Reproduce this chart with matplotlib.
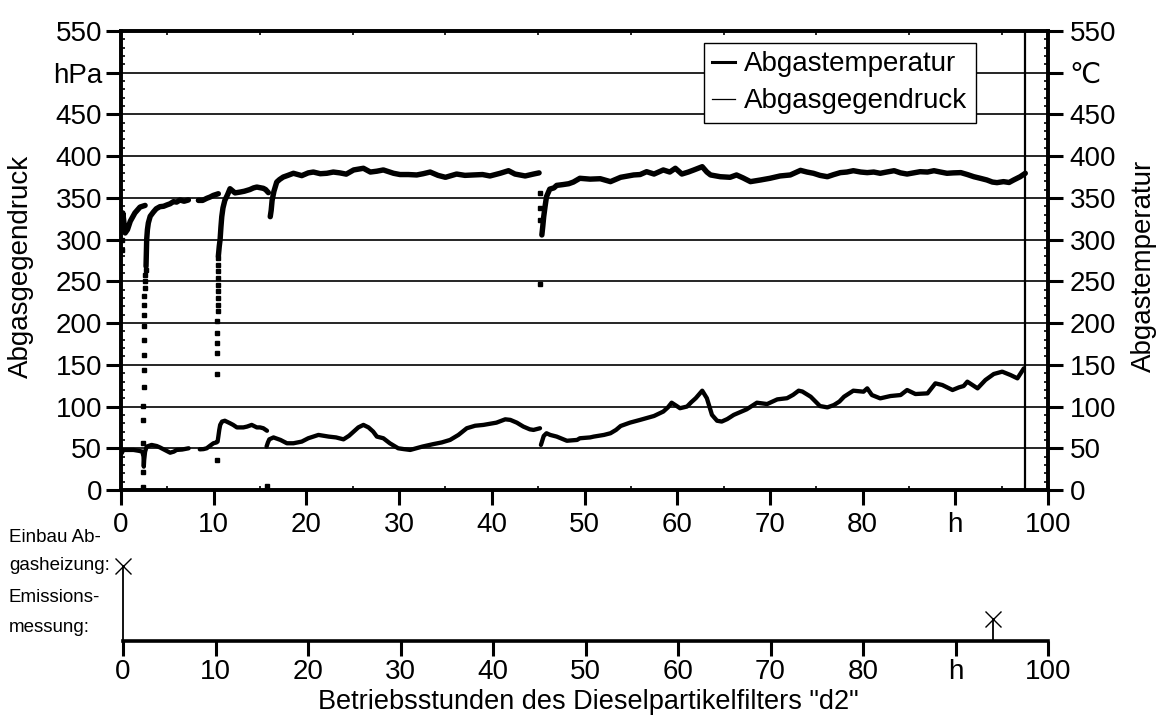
import matplotlib
matplotlib.use("Agg")
import matplotlib.pyplot as plt
from matplotlib.lines import Line2D
from matplotlib.ticker import MultipleLocator
from matplotlib import font_manager

plt.rcParams['font.family'] = ['Liberation Sans', 'DejaVu Sans']

# ---------------- data ----------------
hours_ticks = [0, 10, 20, 30, 40, 50, 60, 70, 80, 90, 100]
hours_labels = ['0', '10', '20', '30', '40', '50', '60', '70', '80', 'h', '100']
y_ticks = [0, 50, 100, 150, 200, 250, 300, 350, 400, 450, 500, 550]
left_labels = ['0', '50', '100', '150', '200', '250', '300', '350', '400', '450', 'hPa', '550']
right_labels = ['0', '50', '100', '150', '200', '250', '300', '350', '400', '450', '\u2103', '550']

# Abgastemperatur (°C) – sparse warm-up samples and continuous runs
warm_a_h = [0.1, 0.1, 0.11]
warm_a_c = [288, 300, 312]
temp_a_h = [0.12, 0.2, 0.3, 0.45, 0.7, 1.0, 1.5, 2.05, 2.6]
temp_a_c = [325, 332, 322, 308, 312, 322, 332, 339, 341]

warm_b_h = [2.41, 2.41, 2.42, 2.42, 2.42, 2.43, 2.43, 2.44, 2.45, 2.46,
            2.48, 2.50, 2.52, 2.55, 2.58, 2.62, 2.66]
warm_b_c = [4, 22, 56, 84, 101, 123, 144, 162, 180, 196,
            210, 222, 232, 242, 250, 258, 264]
temp_b_h = [2.70, 2.77, 2.85, 2.95, 3.15, 3.49, 3.8, 4.2, 4.6, 4.93,
            5.3, 5.65, 6.0, 6.37, 6.8, 7.27]
temp_b_c = [268, 300, 312, 320, 328, 333, 337, 339.5, 340, 341.5,
            343, 345.5, 345, 347.5, 346, 347.5]

temp_c_h = [8.35, 8.8, 9.25, 9.6, 9.95, 10.5]
temp_c_c = [347, 347, 349.5, 351, 353, 355]

warm_d_h = [10.40, 10.39, 10.39, 10.40, 10.40, 10.40, 10.41, 10.41, 10.42, 10.42,
            10.43, 10.43, 10.44, 10.45, 10.46]
warm_d_c = [36, 139, 164, 176, 188, 202, 214, 222, 230, 238,
            246, 254, 262, 270, 278]
temp_d_h = [10.5, 10.6, 10.69, 10.78, 10.87, 11.0, 11.2, 11.5, 11.76, 12.3,
            12.85, 13.3, 13.9, 14.3, 14.65, 15.35, 15.6, 15.9]
temp_d_c = [280, 292, 300, 315, 327.5, 338, 347, 354, 361, 356,
            357, 358, 360, 362, 363, 361.5, 360, 356.3]

cold_h = [15.7]
cold_c = [5]

temp_e_h = [16.1, 16.2, 16.3, 16.5, 16.8, 17.1, 17.5, 18.0, 18.6, 19.5,
            20.2, 20.75, 21.5, 22.2, 22.9, 23.6, 24.3, 25.1, 26.15, 26.9,
            27.6, 28.3, 29.4, 30.1, 31.0, 31.9, 32.6, 33.35, 34.2, 35.0,
            36.2, 37.1, 38.0, 39.0, 39.8, 40.9, 41.8, 42.5, 43.6, 44.5,
            45.1]
temp_e_c = [327.5, 335, 347, 358, 369, 372, 375, 377, 379.5, 376.7,
            380, 381, 379, 379.5, 381, 380, 378.5, 383.5, 385.5, 381,
            382, 383.5, 379.5, 378, 378, 377.5, 379, 381, 377, 374.7,
            378.6, 377, 377.5, 378, 376.3, 379.5, 382.6, 378.6, 376.3, 378.6,
            380]

warm_f_h = [45.18, 45.15, 45.17, 45.2]
warm_f_c = [247, 355.5, 337.5, 323.5]
temp_f_h = [45.4, 45.5, 45.6, 45.75, 45.9, 46.25, 46.7, 47.0, 47.7, 48.3,
            48.8, 49.5, 50.6, 51.7, 52.8, 53.9, 55.3, 56.0, 56.7, 57.5,
            58.5, 59.2, 59.8, 60.5, 61.2, 61.8, 62.7, 63.2, 63.6, 64.65,
            65.7, 66.4, 67.1, 67.9, 69.0, 70.0, 71.1, 72.2, 73.3, 74.0,
            74.7, 75.4, 76.2, 76.9, 77.6, 78.3, 79.0, 79.8, 80.5, 81.2,
            81.9, 82.6, 83.4, 84.1, 84.8, 85.5, 86.2, 87.0, 87.7, 88.4,
            89.1, 89.8, 90.6, 91.3, 92.0, 92.7, 93.4, 94.0, 94.5, 95.2,
            95.8, 96.3, 97.0, 97.55]
temp_f_c = [305.6, 316, 327.5, 340, 351.5, 360.5, 362, 365, 366, 367,
            369, 373.5, 372.5, 373, 369.5, 374.7, 377.5, 378, 381.4, 378.6,
            383.5, 381, 385.5, 378.6, 381, 383.5, 387.4, 381, 377.5, 375.4,
            374.7, 377.5, 374, 369.5, 371.5, 373.5, 376.3, 377.5, 383, 381,
            379.5, 377, 375.4, 378, 380.3, 381, 382.6, 381, 380.3, 381,
            379.5, 381, 382.6, 380, 378.6, 380, 381.4, 381, 382.6, 381,
            379.5, 380, 380.3, 378, 375.4, 373.5, 371.5, 369, 368.3, 369.5,
            368.5, 371.5, 375.4, 379.5]

# Abgasgegendruck (hPa)
pres_a_h = [0.07, 0.25, 0.8, 1.35, 1.9, 2.3, 2.43, 2.46, 2.5, 2.6,
            2.77, 3.3, 3.85, 4.2, 4.6, 5.3, 5.7, 6.0, 6.6, 7.3]
pres_a_p = [44, 48, 48, 48, 47, 46, 40, 28, 36, 46,
            52, 54, 52.7, 51, 48.7, 44.7, 46, 48, 48.5, 50]
pres_b_h = [8.5, 8.9, 9.25, 9.6, 9.97, 10.3, 10.42, 10.5, 10.6, 10.7,
            10.9, 11.2, 11.76, 12.1, 12.5, 13.2, 13.6, 14.1, 14.65, 15.0,
            15.35, 15.75]
pres_b_p = [48.7, 49, 50, 53, 56, 57, 58, 64, 72, 78,
            82, 83, 80, 78, 75, 75, 76, 78, 75, 75,
            74, 71]
pres_c_h = [15.7, 15.85, 16.0, 16.45, 17.2, 17.9, 18.6, 19.5, 20.2, 21.3,
            22.4, 23.2, 24.0, 24.6, 25.1, 25.6, 26.15, 26.7, 27.2, 27.6,
            28.3, 29.0, 29.9, 30.5, 31.2, 32.5, 33.7, 34.6, 35.5, 36.4,
            37.3, 38.2, 39.1, 40.5, 41.45, 42.0, 42.7, 43.4, 44.1, 44.5,
            45.2]
pres_c_p = [52, 57, 60.7, 63, 60, 56, 56, 58, 62, 66,
            64, 63, 60.7, 65, 70, 75, 78, 75, 70, 64,
            62, 56, 50, 49, 48, 52, 55, 57, 60, 66,
            74, 77, 78, 80.7, 84.7, 84, 80.7, 76, 72.7, 72,
            74]
pres_d_h = [45.3, 45.6, 45.9, 46.3, 47.0, 48.1, 49.2, 49.5, 50.6, 51.0,
            52.1, 52.8, 53.4, 53.9, 54.9, 56.0, 57.5, 58.5, 59.0, 59.4,
            59.9, 60.3, 61.06, 61.5, 62.0, 62.7, 63.2, 63.75, 64.3, 64.8,
            65.4, 66.1, 67.5, 68.6, 69.7, 70.8, 71.85, 72.5, 73.1, 73.5,
            74.4, 75.4, 76.2, 76.9, 77.5, 78.0, 79.0, 80.1, 80.5, 81.0,
            81.9, 83.0, 84.1, 84.8, 85.7, 87.0, 87.85, 88.6, 89.7, 90.4,
            90.9, 91.3, 92.4, 93.25, 94.15, 95.06, 95.95, 96.7, 97.4]
pres_d_p = [54, 64.7, 68, 66, 64, 59, 60, 62, 63, 64,
            66, 68, 72, 76.7, 80.7, 84, 88.7, 94, 99, 104.6,
            101, 98, 100, 105, 110, 119, 110, 90, 83, 82,
            85, 90, 96.7, 104.6, 103, 108.6, 110, 114, 119, 118,
            111.8, 100.6, 99, 101.8, 106, 111.8, 119, 117.8, 121.8, 113.8,
            109.8, 112.6, 113.8, 119.8, 115, 115.8, 127.8, 125.8, 119.8, 123,
            124.6, 129.8, 121.8, 131.8, 139, 141.8, 137.8, 133.8, 145.8]

end_of_run_h = 97.5

# Events (lower strip)
einbau_h = [0.0]
emission_h = [94.0]

# ---------------- figure ----------------
W, H = 1160, 715
fig = plt.figure(figsize=(W / 100, H / 100), dpi=100)


def fx(px):
    return px / W


def fy(py):
    return 1 - py / H


FS = 20
SPINE_W = 2.6

ax = fig.add_axes([fx(121), fy(490), fx(1048) - fx(121), fy(31) - fy(490)])
ax.set_xlim(0, 100)
ax.set_ylim(0, 550)
ax.set_xticks(hours_ticks)
ax.set_xticklabels(hours_labels)
ax.set_yticks(y_ticks)
ax.set_yticklabels(left_labels)
ax.xaxis.set_minor_locator(MultipleLocator(5))
ax.yaxis.set_minor_locator(MultipleLocator(10))
ax.yaxis.grid(True, color='k', lw=1.2)
ax.set_axisbelow(True)
for s in ax.spines.values():
    s.set_linewidth(SPINE_W)
ax.tick_params(which='major', direction='out', length=10.5, width=2.2,
               labelsize=FS, pad=3, top=False, right=False)
ax.tick_params(axis='x', which='major', pad=5)
ax.tick_params(which='minor', direction='in', length=3, width=1.2,
               top=True, bottom=True, left=True, right=True)

axr = ax.twinx()
axr.set_ylim(0, 550)
axr.set_yticks(y_ticks)
axr.set_yticklabels(right_labels)
axr.yaxis.set_minor_locator(MultipleLocator(10))
for s in axr.spines.values():
    s.set_linewidth(SPINE_W)
axr.tick_params(which='major', direction='out', length=10.5, width=2.2,
                labelsize=FS, pad=5)
axr.tick_params(which='minor', direction='in', length=3, width=1.2)

ax.axvline(end_of_run_h, color='k', lw=1.6)

T_LW = 3.9
P_LW = 3.1
line_kw = dict(color='k', solid_capstyle='round', solid_joinstyle='round')
dot_kw = dict(color='k', ls='none', marker='s', ms=2.8)

for h, c in [(temp_a_h, temp_a_c), (temp_b_h, temp_b_c), (temp_c_h, temp_c_c),
             (temp_d_h, temp_d_c), (temp_e_h, temp_e_c), (temp_f_h, temp_f_c)]:
    ax.plot(h, c, lw=T_LW, **line_kw)
for h, c in [(warm_a_h, warm_a_c), (warm_b_h, warm_b_c), (warm_d_h, warm_d_c),
             (warm_f_h, warm_f_c), (cold_h, cold_c)]:
    ax.plot(h, c, **dot_kw)
for h, p in [(pres_a_h, pres_a_p), (pres_b_h, pres_b_p),
             (pres_c_h, pres_c_p), (pres_d_h, pres_d_p)]:
    ax.plot(h, p, lw=P_LW, **line_kw)

# axis titles (anchor is the descender side of the rotated text)
ax.set_ylabel('Abgasgegendruck', fontsize=FS)
ax.yaxis.set_label_coords((34 - 121) / 927, (490 - 266) / 459)
axr.set_ylabel('Abgastemperatur', fontsize=FS, rotation=90)
axr.yaxis.label.set_rotation_mode('anchor')
axr.yaxis.label.set_va('bottom')
axr.yaxis.set_label_coords((1157 - 121) / 927, (490 - 266) / 459)

legend_handles = [Line2D([], [], color='k', lw=2.2), Line2D([], [], color='k', lw=0.9)]
leg = fig.legend(legend_handles, ['Abgastemperatur', 'Abgasgegendruck'],
                 loc='upper right', bbox_to_anchor=(fx(976), fy(43)),
                 fancybox=False, frameon=True, edgecolor='k', framealpha=1,
                 fontsize=FS, handlelength=0.8, handletextpad=0.35,
                 borderpad=0.3, labelspacing=0.4, borderaxespad=0)
leg.get_frame().set_linewidth(1.0)

# ---------------- event strip ----------------
ax2 = fig.add_axes([fx(123), fy(641), fx(1048) - fx(123), fy(560) - fy(641)])
ax2.set_xlim(0, 100)
ax2.set_ylim(0, 1)
for side in ('left', 'right', 'top'):
    ax2.spines[side].set_visible(False)
ax2.spines['bottom'].set_linewidth(SPINE_W)
ax2.set_yticks([])
ax2.set_xticks(hours_ticks)
ax2.set_xticklabels(hours_labels)
ax2.tick_params(axis='x', direction='out', length=10.5, width=2.2, labelsize=FS, pad=2.5)
ax2.patch.set_visible(False)

EINBAU_LEVEL = 0.926
EMISSION_LEVEL = 0.27
for h in einbau_h:
    ax2.plot([h, h], [0, EINBAU_LEVEL], color='k', lw=1.3, clip_on=False)
    ax2.plot([h], [EINBAU_LEVEL], marker='x', ms=12, mew=1.0, color='k', clip_on=False)
for h in emission_h:
    ax2.plot([h, h], [0, EMISSION_LEVEL], color='k', lw=1.3, clip_on=False)
    ax2.plot([h], [EMISSION_LEVEL], marker='x', ms=12, mew=1.0, color='k', clip_on=False)

names = {f.name for f in font_manager.fontManager.ttflist}
narrow = 'Liberation Sans Narrow' if 'Liberation Sans Narrow' in names else 'Liberation Sans'
for txt, ypx in [('Einbau Ab-', 537), ('gasheizung:', 566),
                 ('Emissions-', 598), ('messung:', 627)]:
    fig.text(fx(9), fy(ypx), txt, ha='left', va='center', fontsize=13.5,
             family=[narrow, 'DejaVu Sans'])

fig.text(fx(588), fy(709), 'Betriebsstunden des Dieselpartikelfilters "d2"',
         ha='center', va='baseline', fontsize=19.5)

fig.savefig('out.png', dpi=100)
